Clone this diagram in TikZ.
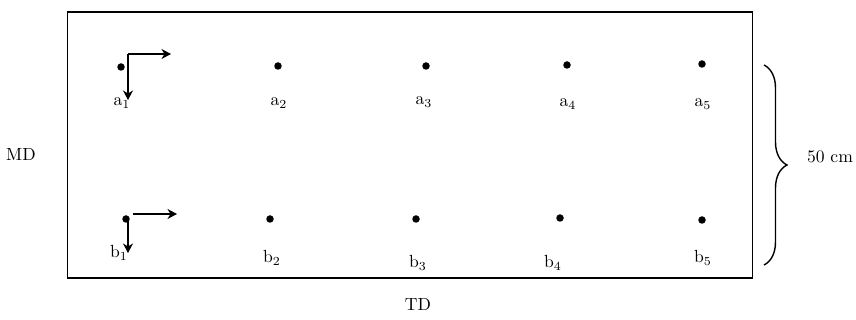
\documentclass[tikz,border=0pt]{standalone}
\usepackage{amsmath}
\usepackage{tikz}
\usetikzlibrary{arrows.meta,calc,positioning,decorations.pathreplacing}

\begin{document}
\begin{tikzpicture}[
      x=0.02cm, y=-0.02cm,
      >={Stealth[length=1.9mm, width=2mm, inset=0.6mm]},
      spot/.style={circle, fill=black, inner sep=0pt, minimum size=0.15cm},
      lbl/.style={font=\normalsize, inner sep=1pt},
      axis/.style={->, thick, black}
    ]
      \useasboundingbox (0,0) rectangle (856,320);
      \node[draw, thick, minimum width=13.7cm, minimum height=5.32cm,
            inner sep=0pt] (frame) at (410,145) {};
      % row a
      \node[spot] (a1) at (121,67) {};
      \node[spot] (a2) at (278,66) {};
      \node[spot] (a3) at (426,66) {};
      \node[spot] (a4) at (567,65) {};
      \node[spot] (a5) at (702,64) {};
      \node[lbl] (la1) at (122,103) {a$_1$};
      \node[lbl] (la2) at (279,103) {a$_2$};
      \node[lbl] (la3) at (424,102) {a$_3$};
      \node[lbl] (la4) at (568,104) {a$_4$};
      \node[lbl] (la5) at (703,104) {a$_5$};
      % row b
      \node[spot] (b1) at (126,219) {};
      \node[spot] (b2) at (270,219) {};
      \node[spot] (b3) at (416,219) {};
      \node[spot] (b4) at (560,218) {};
      \node[spot] (b5) at (702,220) {};
      \node[lbl] (lb1) at (119,253) {b$_1$};
      \node[lbl] (lb2) at (272,258) {b$_2$};
      \node[lbl] (lb3) at (418,263) {b$_3$};
      \node[lbl] (lb4) at (553,263) {b$_4$};
      \node[lbl] (lb5) at (703,258) {b$_5$};
      % directions
      \coordinate (a1o) at (128,54);
      \coordinate (a1r) at (171,54);
      \coordinate (a1d) at (128,100);
      \draw[axis] (a1o) -- (a1r);
      \draw[axis] (a1o) -- (a1d);
      \coordinate (b1o) at (133,214);
      \coordinate (b1r) at (177,214);
      \coordinate (b1t) at (128,220);
      \coordinate (b1d) at (128,253);
      \draw[axis] (b1o) -- (b1r);
      \draw[axis] (b1t) -- (b1d);
      % brace
      \coordinate (bt) at (764,65);
      \coordinate (bb) at (764,265);
      \draw[thick, decorate, decoration={brace, amplitude=0.46cm}] (bt) -- (bb);
      \node[lbl] (width) at (830,157) {50 cm};
      \node[lbl] (md) at (21,155) {MD};
      \node[lbl] (td) at (418,305) {TD};
    \end{tikzpicture}
\end{document}
